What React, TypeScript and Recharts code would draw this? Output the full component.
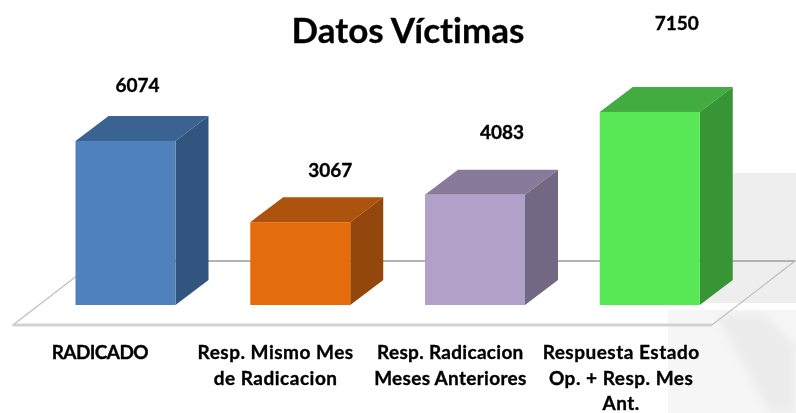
import React from "react";
import { BarChart, Bar, XAxis, YAxis, LabelList } from "recharts";

const categories = [
  "RADICADO",
  "Resp. Mismo Mes de Radicacion",
  "Resp. Radicacion Meses Anteriores",
  "Respuesta Estado Op. + Resp. Mes Ant.",
];
const values = [6074, 3067, 4083, 7150];
const tickLines = [
  ["RADICADO"],
  ["Resp. Mismo Mes", "de Radicacion"],
  ["Resp. Radicacion", "Meses Anteriores"],
  ["Respuesta Estado", "Op. + Resp. Mes", "Ant."],
];
const frontColors = ["#4F81BD", "#E46C0A", "#B1A0C7", "#59E755"];
const topColors = ["#3A6391", "#AC5207", "#887A9B", "#43AC40"];
const sideColors = ["#32557F", "#934607", "#736883", "#399536"];

const labelOffsets = [
  { dx: 12, dy: -49 },
  { dx: 30, dy: -45 },
  { dx: 27, dy: -56 },
  { dx: 27, dy: -82 },
];
const tickShift = [-26, -25, -25, -29];
const tickSpacing = [-0.6, 0.5, 0.3, 0.5];
const DX = 33;
const DY = 25;
const FONT = "Lato, Carlito, sans-serif";
const LABEL_SIZE = 19;
const textStyle = { fontVariantLigatures: "none" as const };

const data = categories.map((name, i) => ({ name, value: values[i] }));

function Box3D(props: any) {
  const { x, y, width, height, index } = props;
  const r = x + width;
  const b = y + height;
  return (
    <g filter="url(#soft)">
      <polygon points={`${x},${y} ${x + DX},${y - DY} ${r + DX},${y - DY} ${r},${y}`} fill={topColors[index]} />
      <polygon points={`${r},${y} ${r + DX},${y - DY} ${r + DX},${b - DY} ${r},${b}`} fill={sideColors[index]} />
      <rect x={x} y={y} width={width} height={height} fill={frontColors[index]} />
    </g>
  );
}

function ValueLabel(props: any) {
  const { x, y, width, value, index } = props;
  const o = labelOffsets[index];
  return (
    <text x={x + width / 2 + o.dx} y={y + o.dy} textAnchor="middle" fontFamily={FONT} fontWeight={700} fontSize={LABEL_SIZE} fill="#000" stroke="#000" strokeWidth={0.35} filter="url(#softText)">
      {value}
    </text>
  );
}

function CategoryTick(props: any) {
  const { x, y, index } = props;
  return (
    <text textAnchor="middle" fontFamily={FONT} fontWeight={700} fontSize={LABEL_SIZE} fill="#000" stroke="#000" strokeWidth={0.35} letterSpacing={tickSpacing[index]} filter="url(#softText)" style={textStyle}>
      {tickLines[index].map((line, i) => (
        <tspan key={i} x={x + tickShift[index]} y={y + 46 + i * 25.5}>
          {line}
        </tspan>
      ))}
    </text>
  );
}

export default function App() {
  return (
    <div style={{ position: "absolute", left: 0, top: 0, width: 796, height: 413 }}>
      <BarChart
        width={796}
        height={413}
        data={data}
        margin={{ top: 35, right: 58.5, bottom: 0, left: 38.5 }}
        barSize={100}
      >
        <defs>
          <filter id="soft" x="-5%" y="-5%" width="110%" height="110%">
            <feGaussianBlur stdDeviation="0.5" />
          </filter>
          <filter id="softText" x="-5%" y="-5%" width="110%" height="110%">
            <feGaussianBlur stdDeviation="0.3" />
          </filter>
          <filter id="softBack" x="-10%" y="-10%" width="120%" height="120%">
            <feGaussianBlur stdDeviation="4" />
          </filter>
        </defs>
        <g>
          <rect x={700} y={173} width={96} height={130} fill="#EEEEEE" />
          <rect x={668} y={310} width={128} height={103} fill="#F6F6F6" />
          <polygon points="715,314 765,314 796,345 796,413 770,413" fill="#ECECEC" filter="url(#softBack)" />
          <polygon points="96,261 795,261 712,325 13,325" fill="none" stroke="#BEBEBE" strokeWidth={1.2} />
          <line x1={96} y1={261} x2={795} y2={261} stroke="#A6A6A6" strokeWidth={1.5} />
          <line x1={13} y1={325} x2={712} y2={325} stroke="#D2D2D2" strokeWidth={3} />
        </g>
        <text x={408} y={43} textAnchor="middle" fontFamily={FONT} fontWeight={700} fontSize={35} fill="#000" stroke="#000" strokeWidth={0.3} filter="url(#softText)" style={textStyle}>
          Datos Víctimas
        </text>
        <XAxis dataKey="name" axisLine={false} tickLine={false} interval={0} height={108} tick={<CategoryTick />} />
        <YAxis hide domain={[0, 10000]} />
        <Bar dataKey="value" isAnimationActive={false} shape={<Box3D />}>
          <LabelList dataKey="value" content={<ValueLabel />} />
        </Bar>
      </BarChart>
    </div>
  );
}
